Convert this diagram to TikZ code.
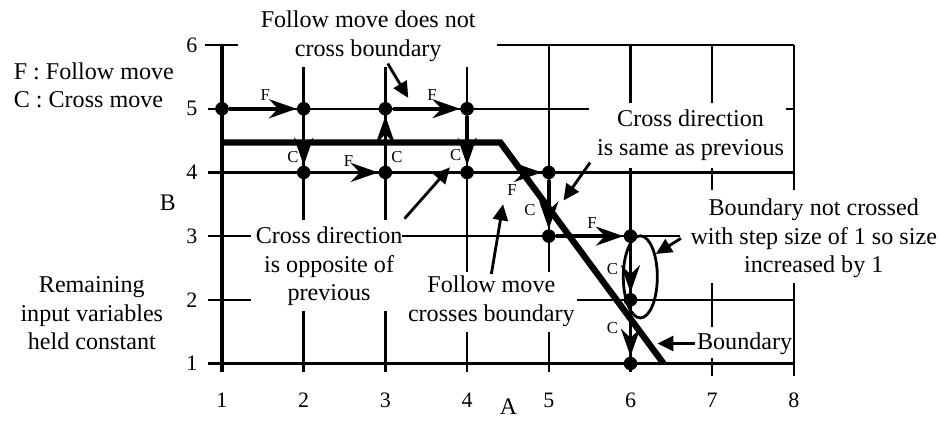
\documentclass[tikz,border=0pt]{standalone}
\usepackage{fontspec}
\setmainfont{Liberation Serif}
\usetikzlibrary{arrows.meta,positioning}

\begin{document}
\begin{tikzpicture}[x=1.632cm,y=1.272cm,
  gridline/.style={line width=1.4pt},
  axisline/.style={line width=2pt},
  dot/.style={circle,fill,inner sep=0pt,minimum size=0.27cm},
  move/.style={line width=2pt,-{Stealth[length=5.5mm,width=3.8mm,inset=1.8mm]}},
  pointer/.style={line width=1.6pt,-{Triangle[length=3.2mm,width=3mm]}},
  note/.style={font=\fontsize{13.7}{16.3}\selectfont,align=center,inner sep=1pt},
  mlab/.style={font=\fontsize{9.5}{10}\selectfont,inner sep=0pt},
  ticklab/.style={font=\fontsize{12.5}{14}\selectfont,inner sep=0pt}]
  \useasboundingbox (-1.717,-0.022) rectangle (9.776,6.708);

  % grid, broken where the notes sit
  \draw[gridline] (0.79,6) -- (1.2,6) (4.37,6) -- (8,6);
  \draw[gridline] (0.83,5) -- (5.49,5) (7.9,5) -- (8,5);
  \draw[gridline] (0.83,4) -- (8,4);
  \draw[gridline] (0.83,3) -- (1.35,3) (3.2,3) -- (6.61,3);
  \draw[gridline] (0.83,2) -- (1.35,2) (5.35,2) -- (8,2);
  \draw[gridline] (2,5.65) -- (2,3.25) (2,1.83) -- (2,0.86);
  \draw[gridline] (3,5.65) -- (3,3.25) (3,1.83) -- (3,0.86);
  \draw[gridline] (4,5.65) -- (4,2.43) (4,1.49) -- (4,0.86);
  \draw[gridline] (5,6) -- (5,2.43) (5,1.49) -- (5,0.86);
  \draw[gridline] (6,6) -- (6,5.09) (6,4.07) -- (6,0.86);
  \draw[gridline] (7,6) -- (7,5.09) (7,4.07) -- (7,3.72)
                  (7,2.26) -- (7,1.57) (7,1.08) -- (7,0.8);
  \draw[gridline] (8,6) -- (8,3.72) (8,2.26) -- (8,0.8);
  \draw[axisline] (1,0.86) -- (1,6);
  \draw[axisline] (0.83,1) -- (8,1);

  % tick labels and axis names
  \foreach \i in {1,...,8}
    \node[ticklab] (xt\i) at (\i,0.418) {\i};
  \foreach \j in {1,...,6}
    \node[ticklab] (yt\j) at (0.632,\j) {\j};
  \node[ticklab,font=\fontsize{13.5}{15}\selectfont] (xname) at (4.505,0.316) {A};
  \node[ticklab,font=\fontsize{13.5}{15}\selectfont] (yname) at (0.338,3.531) {B};

  % the boundary
  \draw[line width=3.6pt] (1,4.47) -- (4.407,4.47) -- (6.404,1);

  % visited points
  \node[dot] (d15) at (1,5) {};
  \node[dot] (d25) at (2,5) {};
  \node[dot] (d35) at (3,5) {};
  \node[dot] (d45) at (4,5) {};
  \node[dot] (d24) at (2,4) {};
  \node[dot] (d34) at (3,4) {};
  \node[dot] (d44) at (4,4) {};
  \node[dot] (d54) at (5,4) {};
  \node[dot] (d53) at (5,3) {};
  \node[dot] (d63) at (6,3) {};
  \node[dot] (d62) at (6,2) {};
  \node[dot] (d61) at (6,1) {};

  % follow and cross moves
  \draw[move] (d15) -- (d25);
  \draw[move] (d25) -- (d24);
  \draw[move] (d24) -- (d34);
  \draw[move] (d34) -- (d35);
  \draw[move] (d35) -- (d45);
  \draw[move] (d45) -- (d44);
  \draw[move] (d44) -- (d54);
  \draw[move] (d54) -- (d53);
  \draw[move] (d53) -- (d63);
  \draw[move] (d63) -- (d62);
  \draw[move] (d62) -- (d61);
  \node[mlab] (f1) at (1.53,5.21) {F};
  \node[mlab] (f2) at (2.55,4.18) {F};
  \node[mlab] (f3) at (3.57,5.21) {F};
  \node[mlab] (f4) at (4.55,3.72) {F};
  \node[mlab] (f5) at (5.53,3.20) {F};
  \node[mlab] (c1) at (1.87,4.24) {C};
  \node[mlab] (c2) at (3.14,4.24) {C};
  \node[mlab] (c3) at (3.86,4.27) {C};
  \node[mlab] (c4) at (4.77,3.41) {C};
  \node[mlab] (c5) at (5.78,2.49) {C};
  \node[mlab] (c6) at (5.78,1.55) {C};
  \draw[line width=1.6pt] (6.12,2.36) ellipse [x radius=0.34cm, y radius=0.82cm];

  % notes
  \node[note,align=left,anchor=west] (key) at (-1.574,5.37)
      {F : Follow move\\C : Cross move};
  \node[note] (tdoes) at (2.79,6.14) {Follow move does not\\cross boundary};
  \node[note] (tsame) at (6.735,4.585) {Cross direction\\is same as previous};
  \node[note] (tgrow) at (8.243,2.965)
      {Boundary not crossed\\with step size of 1 so size\\increased by 1};
  \node[note] (topp) at (2.311,2.525) {Cross direction\\is opposite of\\previous};
  \node[note] (trest) at (-0.593,1.786) {Remaining\\input variables\\held constant};
  \node[note] (tcross) at (4.297,1.975) {Follow move\\crosses boundary};
  \node[note] (tbound) at (7.397,1.314) {Boundary};

  % pointers
  \coordinate (pdoes) at (3.28,5.17);
  \coordinate (psame) at (5.18,3.56);
  \coordinate (popp) at (3.79,4.08);
  \coordinate (pcross) at (4.44,3.50);
  \coordinate (pgrow) at (6.31,2.72);
  \coordinate (pbound) at (6.33,1.314);
  \draw[pointer] ([xshift=0.39cm]tdoes.south) -- (pdoes);
  \draw[pointer] ([xshift=-0.1cm]tsame.south west) -- (psame);
  \draw[pointer] ([yshift=0.12cm]topp.north east) -- (popp);
  \draw[pointer] (tcross.north) -- (pcross);
  \draw[pointer] ([xshift=-0.15cm]tgrow.west) -- (pgrow);
  \draw[pointer] (tbound.west) -- (pbound);
\end{tikzpicture}
\end{document}
